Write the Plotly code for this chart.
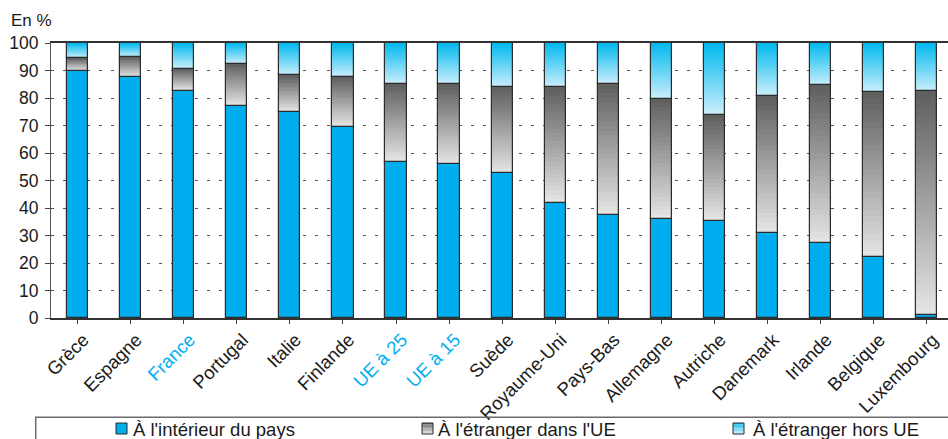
import plotly.graph_objects as go

# Répartition des dépenses touristiques (en %)
pays = ["Grèce", "Espagne", "France", "Portugal", "Italie", "Finlande",
        "UE à 25", "UE à 15", "Suède", "Royaume-Uni", "Pays-Bas", "Allemagne",
        "Autriche", "Danemark", "Irlande", "Belgique", "Luxembourg"]
interieur = [89.9, 87.7, 82.7, 77.1, 74.9, 69.6, 56.8, 55.9, 52.7, 41.9,
             37.5, 36.0, 35.3, 30.9, 27.1, 22.1, 1.0]
dans_ue = [4.6, 7.2, 8.0, 15.3, 13.4, 18.0, 28.3, 29.2, 31.2, 42.0,
           47.6, 43.8, 38.7, 49.9, 57.6, 60.0, 81.4]
hors_ue = [5.5, 5.1, 9.3, 7.6, 11.7, 12.4, 14.9, 14.9, 16.1, 16.1,
           14.9, 20.2, 26.0, 19.2, 15.3, 17.9, 17.6]
agregats = ["France", "UE à 25", "UE à 15"]

BLUE = "#00AEEF"
GRAY_DARK, GRAY_LIGHT = (94, 94, 94), (230, 230, 230)
SKY_DARK, SKY_LIGHT = (0, 184, 238), (204, 239, 252)
EDGE = "#2b2b2b"
W = 948
H = 439
ML, MR, MT, MB = 51, 0, 43, 121
BAR_W = 0.4
N_SLICES = 28


def mix(c0, c1, t):
    return "rgb({},{},{})".format(*[round(a + (b - a) * t) for a, b in zip(c0, c1)])


x = list(range(len(pays)))
fig = go.Figure()

# Séjours à l'intérieur du pays
fig.add_trace(go.Bar(x=x, y=interieur, base=[0] * len(x), width=BAR_W,
                     marker=dict(color=BLUE, line=dict(color=EDGE, width=1.2)),
                     hoverinfo="skip", showlegend=False))


def gradient_segment(lower, height, bottom_rgb, top_rgb):
    # the segment is filled with overlapping slices, light at the bottom
    top = [lo + h for lo, h in zip(lower, height)]
    for i in range(N_SLICES):
        t = i / N_SLICES
        base = [lo + h * t for lo, h in zip(lower, height)]
        fig.add_trace(go.Bar(
            x=x, base=base, y=[tp - b for tp, b in zip(top, base)], width=BAR_W,
            marker=dict(color=mix(bottom_rgb, top_rgb, (i + 0.5) / N_SLICES),
                        line=dict(width=0)),
            hoverinfo="skip", showlegend=False))
    fig.add_trace(go.Bar(
        x=x, base=lower, y=height, width=BAR_W,
        marker=dict(color="rgba(0,0,0,0)", line=dict(color=EDGE, width=1.2)),
        hoverinfo="skip", showlegend=False))


gradient_segment(interieur, dans_ue, GRAY_LIGHT, GRAY_DARK)
sommet_ue = [a + b for a, b in zip(interieur, dans_ue)]
gradient_segment(sommet_ue, hors_ue, SKY_LIGHT, SKY_DARK)

ticktext = [f'<span style="color:{BLUE}">{p}</span>' if p in agregats else p
            for p in pays]

font = "Liberation Sans, Arial, sans-serif"
pw = W - ML - MR
ph = H - MT - MB


def px(xp):
    return (xp - ML) / pw


def py(yp):
    return (H - MB - yp) / ph


shapes = [dict(type="rect", xref="paper", yref="paper",
               x0=px(35.7), x1=px(960), y0=py(417.3), y1=py(450),
               line=dict(color="#6b6b6b", width=1.5), fillcolor="rgba(0,0,0,0)")]
annotations = [dict(text="En %", xref="paper", yref="paper", x=px(9), y=py(21),
                    xanchor="left", yanchor="middle", showarrow=False,
                    font=dict(family=font, size=17, color="#1a1a1a"))]

legend_items = [
    ("À l'intérieur du pays", 116, 130.5, None),
    ("À l'étranger dans l'UE", 422, 435.5, (GRAY_LIGHT, GRAY_DARK)),
    ("À l'étranger hors UE", 733, 750.5, (SKY_LIGHT, SKY_DARK)),
]
for label, sx, tx, grad in legend_items:
    y_top, size = 423, 11
    if grad is None:
        shapes.append(dict(type="rect", xref="paper", yref="paper",
                           x0=px(sx), x1=px(sx + size), y0=py(y_top + size), y1=py(y_top),
                           line=dict(width=0), fillcolor=BLUE))
    else:
        steps = 8
        for k in range(steps):
            shapes.append(dict(type="rect", xref="paper", yref="paper",
                               x0=px(sx), x1=px(sx + size),
                               y0=py(y_top + size - size * k / steps),
                               y1=py(y_top + size - size * (k + 1) / steps),
                               line=dict(width=0),
                               fillcolor=mix(grad[0], grad[1], (k + 0.5) / steps)))
    shapes.append(dict(type="rect", xref="paper", yref="paper",
                       x0=px(sx), x1=px(sx + size), y0=py(y_top + size), y1=py(y_top),
                       line=dict(color=EDGE, width=1), fillcolor="rgba(0,0,0,0)"))
    annotations.append(dict(text=label, xref="paper", yref="paper",
                            x=px(tx), y=py(429.5), xanchor="left",
                            yanchor="middle", showarrow=False,
                            font=dict(family=font, size=18.5, color="#1a1a1a")))

fig.update_layout(
    width=W, height=H, barmode="overlay", bargap=0,
    margin=dict(l=ML, r=MR, t=MT, b=MB, pad=0),
    paper_bgcolor="white", plot_bgcolor="white",
    font=dict(family=font, size=17, color="#1a1a1a"),
    showlegend=False,
    xaxis=dict(range=[-0.5, len(pays) - 0.6], tickmode="array", tickvals=x,
               ticktext=ticktext, tickangle=-45, tickson="boundaries",
               ticks="outside", ticklen=4, tickcolor="#444", tickwidth=1,
               showline=True, linecolor="#333", linewidth=1.5, mirror=True,
               showgrid=False, zeroline=False, tickfont=dict(size=18.5),
               ticklabelshift=6, ticklabelstandoff=-2, fixedrange=True),
    yaxis=dict(range=[0, 100], dtick=10, ticks="outside", ticklen=5,
               tickcolor="#444", showline=True, linecolor="#555", linewidth=1.2,
               showgrid=True, gridcolor="#555", gridwidth=1, griddash="3px,9px",
               zeroline=False, tickfont=dict(size=17.5), ticklabelstandoff=3,
               fixedrange=True),
    shapes=shapes, annotations=annotations,
)

fig.write_html("out.html")
